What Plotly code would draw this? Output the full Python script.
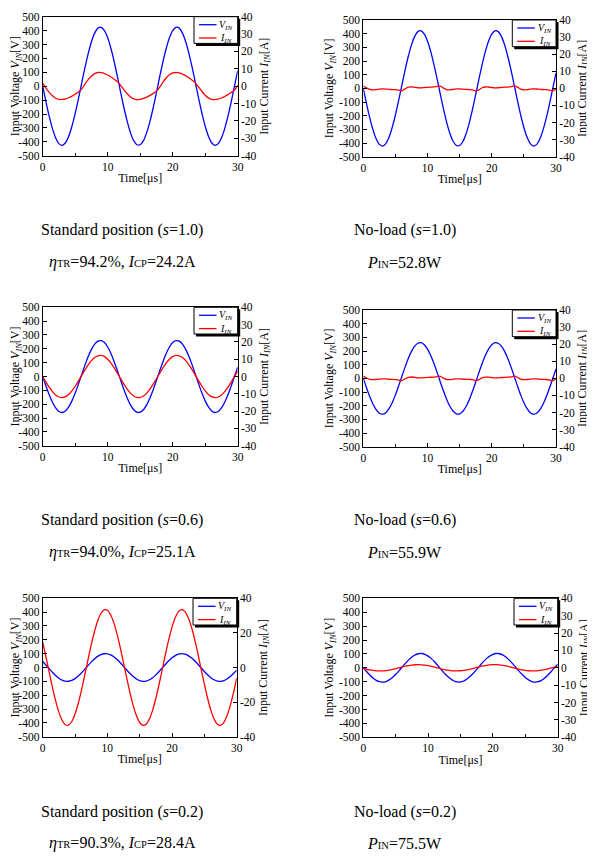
import plotly.graph_objects as go

# page window is 595x857; the browser's default 8px body margin offsets the figure
PAGE_W, PAGE_H = 595, 857
OFF = 8
W, H = PAGE_W - OFF, PAGE_H - OFF

# ---------------- data ----------------
time_us = [0, 0.5, 1, 1.5, 2, 2.5, 3, 3.5, 4, 4.5, 5, 5.5, 6, 6.5, 7, 7.5, 8, 8.5, 9, 9.5,
           10, 10.5, 11, 11.5, 12, 12.5, 13, 13.5, 14, 14.5, 15, 15.5, 16, 16.5, 17, 17.5,
           18, 18.5, 19, 19.5, 20, 20.5, 21, 21.5, 22, 22.5, 23, 23.5, 24, 24.5, 25, 25.5,
           26, 26.5, 27, 27.5, 28, 28.5, 29, 29.5, 30]

# Standard position (s=1.0)
v_std_10 = [0, -112, -216, -305, -372, -413, -425, -407, -360, -288, -196, -90, 23, 133, 235, 320,
            382, 418, 424, 400, 348, 271, 176, 68, -46, -155, -253, -334, -392, -421, -421, -392,
            -334, -253, -155, -45, 68, 176, 271, 348, 400, 424, 418, 382, 320, 235, 133, 23, -90,
            -196, -288, -360, -407, -425, -413, -372, -305, -216, -112, 0, 112]
i_std_10 = [1.6, -1.07, -3.51, -5.52, -6.94, -7.64, -7.64, -7.29, -6.64, -5.73, -4.61, -3.35, -1.71,
            1.19, 3.79, 5.88, 7.28, 7.88, 7.78, 7.30, 6.47, 5.34, 4.01, 2.52, 0.52, -2.08, -4.38,
            -6.17, -7.31, -7.70, -7.54, -7.06, -6.30, -5.30, -4.12, -2.83, -0.53, 2.28, 4.70, 6.53,
            7.63, 7.89, 7.63, 7.00, 6.05, 4.84, 3.43, 1.91, -0.54, -3.05, -5.16, -6.71, -7.56, -7.67,
            -7.38, -6.79, -5.93, -4.85, -3.61, -2.30, 0.63]

# No-load (s=1.0)
v_nl_10 = [0, -111, -214, -302, -369, -410, -422, -404, -358, -286, -195, -89, 22, 133, 233, 318,
           380, 415, 421, 397, 345, 269, 174, 67, -45, -154, -252, -332, -389, -418, -418, -389,
           -332, -252, -154, -45, 67, 174, 269, 345, 397, 421, 415, 380, 318, 233, 133, 22, -89,
           -195, -286, -358, -404, -422, -410, -369, -302, -214, -111, 0, 111]
i_nl_10 = [1.4, 0.25, -0.6, -0.9, -0.7, -0.4, -0.3, -0.4, -0.6, -0.7, -0.8, -1.1, -1.45, -0.3, 0.68,
           0.88, 0.62, 0.36, 0.31, 0.45, 0.62, 0.71, 0.85, 1.1, 1.35, 0.1, -0.75, -0.85, -0.55,
           -0.33, -0.33, -0.5, -0.65, -0.72, -0.9, -1.45, -0.9, 0.35, 0.8, 0.8, 0.5, 0.32, 0.35,
           0.54, 0.67, 0.74, 0.97, 1.45, 0.7, -0.5, -0.85, -0.75, -0.45, -0.3, -0.38, -0.58, -0.68,
           -0.76, -1.05, -1.5, -0.25]

# Standard position (s=0.6)
v_std_06 = [0, -68, -132, -186, -227, -253, -260, -249, -220, -176, -120, -55, 14, 82, 144, 196,
            234, 256, 259, 245, 213, 166, 107, 41, -28, -95, -155, -205, -240, -258, -258, -240,
            -205, -155, -95, -28, 41, 107, 166, 213, 245, 259, 256, 234, 196, 144, 82, 14, -55,
            -120, -176, -220, -249, -260, -253, -227, -186, -132, -68, 0, 68]
i_std_06 = [0, -3.21, -6.19, -8.74, -10.67, -11.85, -12.2, -11.68, -10.34, -8.27, -5.63, -2.58, 0.65,
            3.83, 6.74, 9.18, 10.97, 11.99, 12.16, 11.48, 9.98, 7.78, 5.04, 1.94, -1.31, -4.44,
            -7.27, -9.6, -11.24, -12.09, -12.09, -11.24, -9.6, -7.27, -4.44, -1.3, 1.94, 5.04, 7.78,
            9.98, 11.48, 12.16, 11.99, 10.97, 9.18, 6.74, 3.83, 0.65, -2.58, -5.63, -8.27, -10.34,
            -11.68, -12.2, -11.85, -10.67, -8.74, -6.19, -3.21, 0, 3.21]

# No-load (s=0.6)
v_nl_06 = [0, -69, -133, -188, -229, -255, -262, -251, -222, -178, -121, -55, 14, 82, 145, 197,
           236, 257, 261, 246, 214, 167, 108, 42, -28, -95, -156, -206, -241, -260, -260, -241,
           -206, -156, -95, -28, 42, 108, 167, 214, 246, 261, 257, 236, 197, 145, 82, 14, -55,
           -121, -178, -222, -251, -262, -255, -229, -188, -133, -69, 0, 69]
i_nl_06 = [1.3, 0.2, -0.55, -0.8, -0.65, -0.4, -0.28, -0.35, -0.52, -0.62, -0.72, -1.0, -1.3, -0.28,
           0.6, 0.8, 0.56, 0.33, 0.28, 0.4, 0.56, 0.64, 0.76, 1.0, 1.22, 0.1, -0.68, -0.78, -0.5,
           -0.3, -0.3, -0.45, -0.58, -0.65, -0.8, -1.3, -0.8, 0.3, 0.72, 0.72, 0.45, 0.29, 0.32,
           0.49, 0.6, 0.67, 0.87, 1.3, 0.63, -0.45, -0.77, -0.68, -0.4, -0.27, -0.34, -0.52, -0.61,
           -0.68, -0.95, -1.35, -0.22]

# Standard position (s=0.2)
v_std_02 = [43.7, 18.5, -8.0, -33.9, -57.5, -77.0, -91.1, -98.7, -99.4, -93.1, -80.3, -61.8, -38.9,
            -13.3, 13.3, 38.9, 61.7, 80.3, 93.1, 99.4, 98.7, 91.1, 77.0, 57.5, 33.9, 8.0, -18.5,
            -43.7, -65.8, -83.3, -94.9, -99.9, -97.7, -88.7, -73.5, -53.1, -28.9, -2.7, 23.7, 48.4,
            69.8, 86.2, 96.5, 100, 96.5, 86.2, 69.8, 48.5, 23.8, -2.6, -28.9, -53.0, -73.5, -88.7,
            -97.7, -99.9, -95.0, -83.3, -65.9, -43.8, -18.6]
i_std_02 = [14.65, 6.21, -2.67, -11.36, -19.26, -25.78, -30.51, -33.07, -33.31, -31.2, -26.89,
            -20.69, -13.03, -4.45, 4.45, 13.03, 20.68, 26.89, 31.2, 33.31, 33.07, 30.51, 25.79,
            19.26, 11.37, 2.68, -6.2, -14.65, -22.06, -27.91, -31.8, -33.45, -32.74, -29.73, -24.62,
            -17.77, -9.68, -0.89, 7.95, 16.23, 23.37, 28.86, 32.32, 33.5, 32.32, 28.86, 23.38, 16.24,
            7.96, -0.88, -9.66, -17.76, -24.61, -29.72, -32.74, -33.45, -31.81, -27.92, -22.07,
            -14.66, -6.22]

# No-load (s=0.2)
v_nl_02 = [0, -27, -52, -74, -90, -100, -103, -99, -87, -70, -47, -22, 5, 32, 57, 78, 93, 101, 103,
           97, 84, 66, 43, 16, -11, -38, -61, -81, -95, -102, -102, -95, -81, -61, -38, -11, 16, 43,
           66, 84, 97, 103, 101, 93, 78, 57, 32, 5, -22, -47, -70, -87, -99, -103, -100, -90, -74,
           -52, -27, 0, 27]
i_nl_02 = [-0.38, -0.83, -1.22, -1.53, -1.72, -1.80, -1.75, -1.57, -1.29, -0.91, -0.47, 0, 0.47,
           0.91, 1.29, 1.57, 1.75, 1.80, 1.72, 1.53, 1.22, 0.83, 0.38, -0.10, -0.57, -0.99, -1.36,
           -1.62, -1.77, -1.79, -1.69, -1.47, -1.15, -0.74, -0.29, 0.19, 0.66, 1.07, 1.42, 1.66,
           1.78, 1.78, 1.66, 1.42, 1.07, 0.66, 0.19, -0.29, -0.74, -1.15, -1.47, -1.69, -1.79,
           -1.77, -1.62, -1.35, -1.00, -0.57, -0.10, 0.38, 0.83]

# tick labels
time_ticks = [0, 10, 20, 30]
time_minor_ticks = [5, 15, 25]
volt_ticks = [-500, -400, -300, -200, -100, 0, 100, 200, 300, 400, 500]
volt_ticktext = ["-500", "-400", "-300", "-200", "-100", "0", "100", "200", "300", "400", "500"]
curr_ticks = [-40, -30, -20, -10, 0, 10, 20, 30, 40]
curr_ticktext = ["-40", "-30", "-20", "-10", "0", "10", "20", "30", "40"]
curr_ticks_coarse = [-40, -20, 0, 20, 40]
curr_ticktext_coarse = ["-40", "-20", "0", "20", "40"]

small = "<span style='font-size:10.5px'>"
captions = [
    ("Standard position (<i>s</i>=1.0)",
     "<i>η</i>" + small + "TR</span>=94.2%, <i>I</i>" + small + "CP</span>=24.2A"),
    ("No-load (<i>s</i>=1.0)", "<i>P</i>" + small + "IN</span>=52.8W"),
    ("Standard position (<i>s</i>=0.6)",
     "<i>η</i>" + small + "TR</span>=94.0%, <i>I</i>" + small + "CP</span>=25.1A"),
    ("No-load (<i>s</i>=0.6)", "<i>P</i>" + small + "IN</span>=55.9W"),
    ("Standard position (<i>s</i>=0.2)",
     "<i>η</i>" + small + "TR</span>=90.3%, <i>I</i>" + small + "CP</span>=28.4A"),
    ("No-load (<i>s</i>=0.2)", "<i>P</i>" + small + "IN</span>=75.5W"),
]

# ---------------- layout helpers ----------------
FONT = "Liberation Serif, Times New Roman, serif"
BLUE = "#0000FF"
RED = "#FF0000"


def fx(px):
    return (px - OFF) / W


def fy(py):
    return 1 - (py - OFF) / H


panels = [
    dict(v=v_std_10, i=i_std_10, box=(42.7, 16.7, 237.7, 155.7), coarse=False, cx=122),
    dict(v=v_nl_10, i=i_nl_10, box=(363.3, 20.0, 556.0, 156.7), coarse=False, cx=404.5),
    dict(v=v_std_06, i=i_std_06, box=(42.7, 307.3, 237.7, 445.7), coarse=False, cx=122),
    dict(v=v_nl_06, i=i_nl_06, box=(363.3, 310.0, 556.0, 446.7), coarse=False, cx=404.5),
    dict(v=v_std_02, i=i_std_02, box=(42.7, 598.3, 236.7, 736.7), coarse=True, cx=122),
    dict(v=v_nl_02, i=i_nl_02, box=(363.3, 598.3, 557.7, 737.3), coarse=False, cx=404.5),
]
caption_rows = [(230, 262), (520, 552), (812, 843)]

fig = go.Figure()
layout = dict(
    width=W, height=H,
    margin=dict(l=0, r=0, t=0, b=0),
    paper_bgcolor="white", plot_bgcolor="white",
    showlegend=False,
    font=dict(family=FONT, color="black", size=11.5),
)
shapes = []
annotations = []

axis_common = dict(showgrid=False, zeroline=False, showline=True, linecolor="black",
                   linewidth=1, ticks="inside", tickcolor="black", ticklen=4, tickwidth=1,
                   tickfont=dict(family=FONT, size=11.5, color="black"), automargin=False)

for k, p in enumerate(panels):
    n = k + 1
    xname = "x" if n == 1 else f"x{n}"
    yl = 2 * k + 1
    yr = 2 * k + 2
    ylname = "y" if yl == 1 else f"y{yl}"
    yrname = f"y{yr}"
    x0, y0, x1, y1 = p["box"]

    layout["xaxis" if n == 1 else f"xaxis{n}"] = dict(
        axis_common, domain=[fx(x0), fx(x1)], anchor=ylname, range=[0, 30],
        tickvals=time_ticks, ticktext=[str(t) for t in time_ticks], mirror=True,
        minor=dict(tickvals=time_minor_ticks, ticks="inside", ticklen=3, tickcolor="black"),
        title=dict(text="Time[μs]", font=dict(family=FONT, size=12), standoff=2),
    )
    layout["yaxis" if yl == 1 else f"yaxis{yl}"] = dict(
        axis_common, domain=[fy(y1), fy(y0)], anchor=xname, range=[-500, 500],
        tickvals=volt_ticks, ticktext=volt_ticktext,
        title=dict(text="Input Voltage <i>V<sub>IN</sub></i>[V]", font=dict(family=FONT, size=12),
                   standoff=2),
    )
    if p["coarse"]:
        tv, tt = curr_ticks_coarse, curr_ticktext_coarse
    else:
        tv, tt = curr_ticks, curr_ticktext
    layout[f"yaxis{yr}"] = dict(
        axis_common, overlaying=ylname, side="right", anchor=xname, range=[-40, 40],
        tickvals=tv, ticktext=tt,
        title=dict(text="Input Current <i>I<sub>IN</sub></i>[A]", font=dict(family=FONT, size=12),
                   standoff=2),
    )

    fig.add_trace(go.Scatter(x=time_us, y=p["v"], xaxis=xname, yaxis=ylname, mode="lines",
                             line=dict(color=BLUE, width=1.3, shape="spline", smoothing=0.8),
                             name="V_IN", hoverinfo="skip"))
    fig.add_trace(go.Scatter(x=time_us, y=p["i"], xaxis=xname, yaxis=yrname, mode="lines",
                             line=dict(color=RED, width=1.3, shape="spline", smoothing=0.8),
                             name="I_IN", hoverinfo="skip"))

    # legend box (drawn as shapes) with shadow
    bx1 = x1
    bx0 = x1 - 43.7
    by0 = y0
    by1 = y0 + 26.7
    shapes.append(dict(type="rect", xref="paper", yref="paper",
                       x0=fx(bx0 + 2), x1=fx(bx1 + 2.5), y0=fy(by1 + 2.5), y1=fy(by0 + 2),
                       fillcolor="black", line=dict(width=0), layer="above"))
    shapes.append(dict(type="rect", xref="paper", yref="paper",
                       x0=fx(bx0), x1=fx(bx1), y0=fy(by1), y1=fy(by0),
                       fillcolor="white", line=dict(color="black", width=1), layer="above"))
    for j, (col, label) in enumerate([(BLUE, "<i>V<sub>IN</sub></i>"), (RED, "<i>I<sub>IN</sub></i>")]):
        ly = by0 + 8.0 + j * 13.3
        shapes.append(dict(type="line", xref="paper", yref="paper",
                           x0=fx(bx0 + 5), x1=fx(bx0 + 22.5), y0=fy(ly), y1=fy(ly),
                           line=dict(color=col, width=1.3), layer="above"))
        annotations.append(dict(xref="paper", yref="paper", x=fx(bx1 - 3.5), y=fy(ly + 0.5),
                                xanchor="right", yanchor="middle", showarrow=False, text=label,
                                font=dict(family=FONT, size=10, color="black")))

    # captions
    row = k // 2
    l1, l2 = captions[k]
    cy1, cy2 = caption_rows[row]
    annotations.append(dict(xref="paper", yref="paper", x=fx(p["cx"]), y=fy(cy1),
                            xanchor="center", yanchor="middle", showarrow=False, text=l1,
                            font=dict(family=FONT, size=16, color="black")))
    annotations.append(dict(xref="paper", yref="paper", x=fx(p["cx"]), y=fy(cy2),
                            xanchor="center", yanchor="middle", showarrow=False, text=l2,
                            font=dict(family=FONT, size=16, color="black")))

layout["shapes"] = shapes
layout["annotations"] = annotations
fig.update_layout(**layout)
fig.write_html("out.html")
